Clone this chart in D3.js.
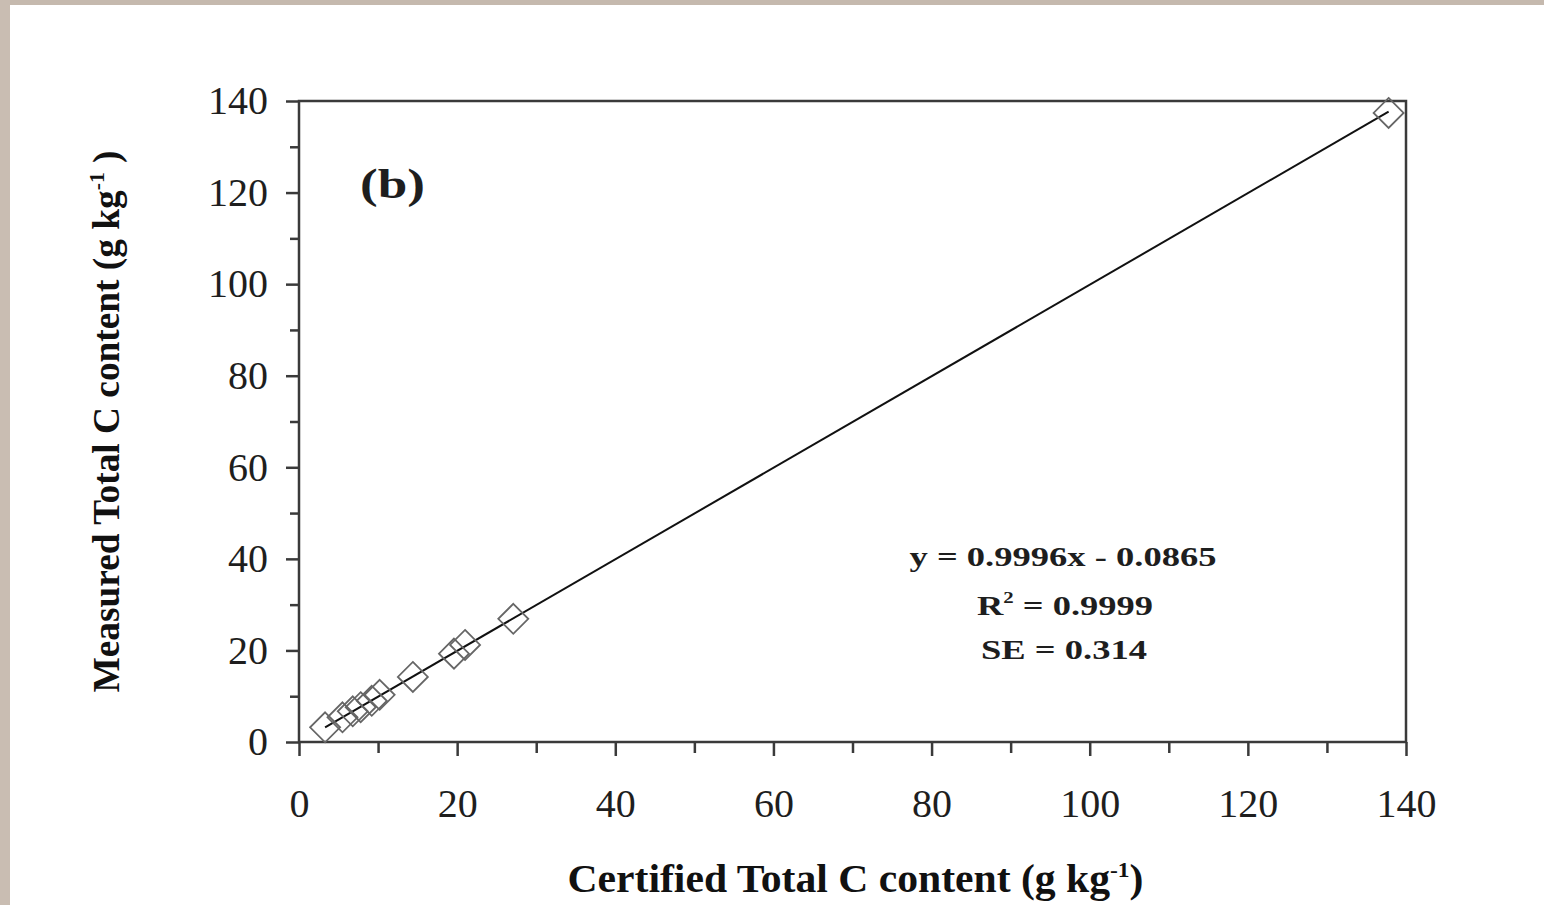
<!DOCTYPE html>
<html>
<head>
<meta charset="utf-8">
<script src="https://cdn.jsdelivr.net/npm/d3@7"></script>
<style>
  html, body { margin: 0; padding: 0; background: #fff; }
  svg { display: block; }
</style>
</head>
<body>
<script>
// Certified vs measured total carbon content of reference materials (g kg-1)
const certified = [3.3, 5.5, 6.8, 7.8, 9.2, 10.2, 14.4, 19.6, 21.0, 27.1, 137.8];
const measured  = [3.2, 5.4, 6.7, 7.6, 9.0, 10.3, 14.2, 19.3, 21.2, 26.9, 137.4];

// Linear fit reported for the data
const slope = 0.9996;
const intercept = -0.0865;
const fitLines = ["y = 0.9996x - 0.0865", "R", " = 0.9999", "SE = 0.314"];

const majorTicks = [0, 20, 40, 60, 80, 100, 120, 140];
const minorTicks = [10, 30, 50, 70, 90, 110, 130];

const W = 1544, H = 905;
const svg = d3.select("body").append("svg").attr("width", W).attr("height", H);

// page frame: tinted strips along the top and left edge
svg.append("rect").attr("x", 0).attr("y", 0).attr("width", W).attr("height", H).attr("fill", "#fff");
svg.append("rect").attr("x", 0).attr("y", 0).attr("width", W).attr("height", 5).attr("fill", "#c5b9ae");
svg.append("rect").attr("x", 0).attr("y", 0).attr("width", 10).attr("height", H).attr("fill", "#c9bdb2");

const x = d3.scaleLinear().domain([0, 140]).range([299, 1406]);
const y = d3.scaleLinear().domain([0, 140]).range([742, 101]);

const axisColor = "#3a3a3a";
const serif = "'Liberation Serif', 'Times New Roman', serif";

// plot box
svg.append("rect")
  .attr("x", x(0)).attr("y", y(140))
  .attr("width", x(140) - x(0)).attr("height", y(0) - y(140))
  .attr("fill", "none").attr("stroke", axisColor).attr("stroke-width", 2.5);

function styleAxis(g) {
  g.select(".domain").remove();
  g.selectAll(".tick line").attr("stroke", axisColor).attr("stroke-width", 2.5);
  g.selectAll(".tick text")
    .attr("fill", "#1e1e1e")
    .style("font-family", serif)
    .style("font-size", "40px");
}

// x axis: labelled major ticks and unlabelled minor ticks
svg.append("g").attr("transform", `translate(0,${y(0)})`)
  .call(d3.axisBottom(x).tickValues(majorTicks).tickSize(14).tickPadding(33).tickFormat(d3.format("d")))
  .call(styleAxis);
svg.append("g").attr("transform", `translate(0,${y(0)})`)
  .call(d3.axisBottom(x).tickValues(minorTicks).tickSize(11).tickFormat(""))
  .call(styleAxis);

// y axis
svg.append("g").attr("transform", `translate(${x(0)},0)`)
  .call(d3.axisLeft(y).tickValues(majorTicks).tickSize(13).tickPadding(18).tickFormat(d3.format("d")))
  .call(styleAxis);
svg.append("g").attr("transform", `translate(${x(0)},0)`)
  .call(d3.axisLeft(y).tickValues(minorTicks).tickSize(9).tickFormat(""))
  .call(styleAxis);

// fitted regression line across the observed range
const xMin = d3.min(certified), xMax = d3.max(certified);
svg.append("line")
  .attr("x1", x(xMin)).attr("y1", y(slope * xMin + intercept))
  .attr("x2", x(xMax)).attr("y2", y(slope * xMax + intercept))
  .attr("stroke", "#111").attr("stroke-width", 2);

// hollow diamond markers
const r = 15;
const diamond = `M0,${-r}L${r},0L0,${r}L${-r},0Z`;
svg.append("g").selectAll("path")
  .data(certified.map((c, i) => [c, measured[i]]))
  .join("path")
  .attr("d", diamond)
  .attr("transform", d => `translate(${x(d[0])},${y(d[1])})`)
  .attr("fill", "none")
  .attr("stroke", "#666")
  .attr("stroke-width", 1.8);

// panel tag
svg.append("text")
  .attr("x", 360).attr("y", 198)
  .attr("textLength", 65).attr("lengthAdjust", "spacingAndGlyphs")
  .style("font-family", serif).style("font-weight", "bold").style("font-size", "42px")
  .attr("fill", "#1e1e1e")
  .text("(b)");

// regression statistics
const stat = svg.append("g")
  .style("font-family", serif).style("font-weight", "bold").style("font-size", "28px")
  .attr("fill", "#1e1e1e").attr("text-anchor", "middle");
stat.append("text").attr("x", 1063).attr("y", 566)
  .attr("textLength", 307).attr("lengthAdjust", "spacingAndGlyphs")
  .text(fitLines[0]);
const r2 = stat.append("text").attr("x", 1065).attr("y", 615)
  .attr("textLength", 176).attr("lengthAdjust", "spacingAndGlyphs");
r2.append("tspan").text(fitLines[1]);
r2.append("tspan").attr("dy", -12).style("font-size", "16px").text("2");
r2.append("tspan").attr("dy", 12).text(fitLines[2]);
stat.append("text").attr("x", 1064).attr("y", 659)
  .attr("textLength", 166).attr("lengthAdjust", "spacingAndGlyphs")
  .text(fitLines[3]);

// axis titles
const xt = svg.append("text")
  .attr("x", (x(0) + x(140)) / 2 + 3).attr("y", 892)
  .attr("text-anchor", "middle")
  .attr("textLength", 576).attr("lengthAdjust", "spacingAndGlyphs")
  .style("font-family", serif).style("font-weight", "bold").style("font-size", "39px")
  .attr("fill", "#111");
xt.append("tspan").text("Certified Total C content (g kg");
xt.append("tspan").attr("dy", -15).style("font-size", "22px").text("-1");
xt.append("tspan").attr("dy", 15).text(")");

const yt = svg.append("text")
  .attr("transform", `translate(119,${(y(0) + y(140)) / 2}) rotate(-90)`)
  .attr("text-anchor", "middle")
  .attr("textLength", 542).attr("lengthAdjust", "spacingAndGlyphs")
  .style("font-family", serif).style("font-weight", "bold").style("font-size", "38px")
  .attr("fill", "#111");
yt.append("tspan").text("Measured Total C content (g kg");
yt.append("tspan").attr("dy", -15).style("font-size", "22px").text("-1");
yt.append("tspan").attr("dy", 15).text(" )");
</script>
</body>
</html>
